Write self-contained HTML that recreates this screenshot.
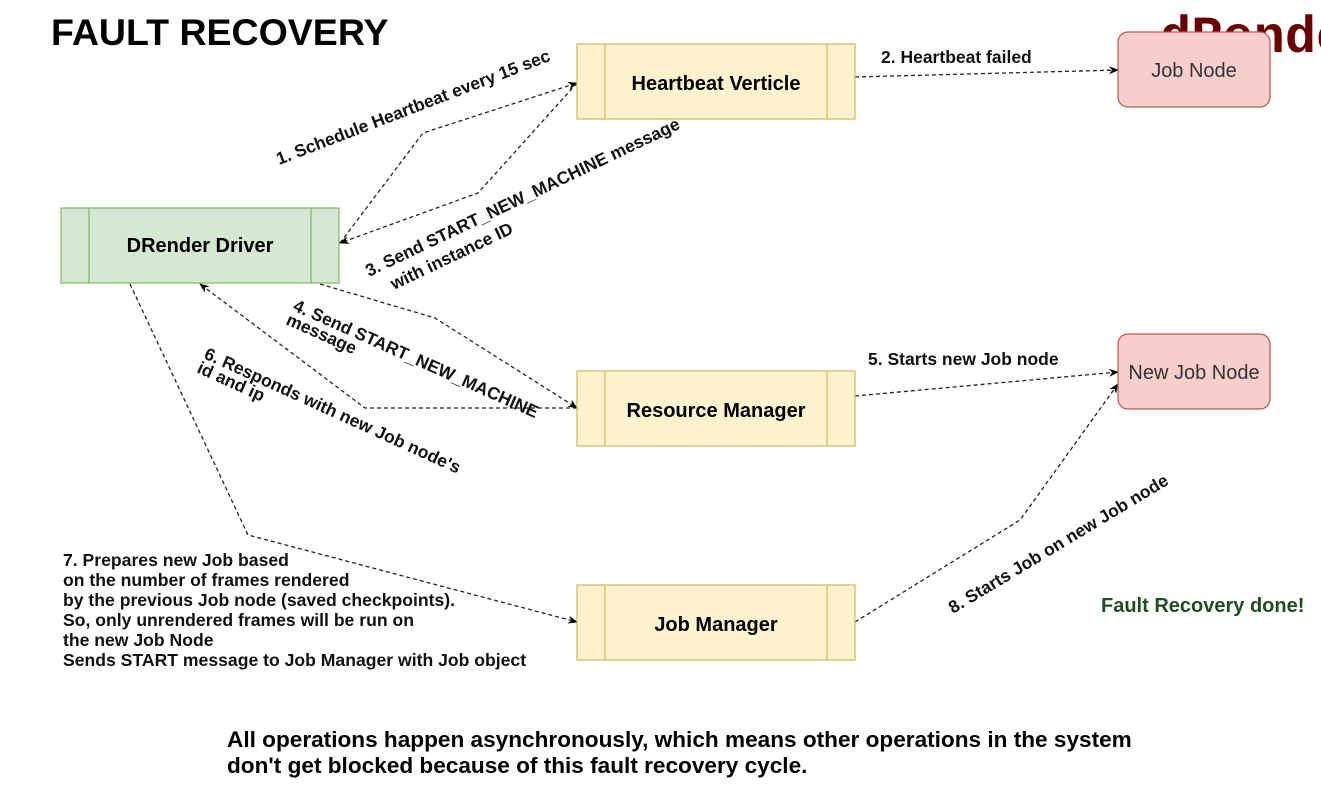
<!DOCTYPE html>
<html><head><meta charset="utf-8"><style>
body{margin:0;width:1321px;height:788px;background:#fff;position:relative;overflow:hidden;font-family:"Liberation Sans",Arial,sans-serif;}
.a{position:absolute;white-space:nowrap;}
.b{font-weight:bold;}
</style></head><body>
<div class="a b" style="left:51px;top:11px;font-size:37.5px;color:#000">FAULT RECOVERY</div>
<div class="a b" style="left:1160px;top:9px;font-size:52px;color:#6b0000;font-family:'Liberation Mono',monospace">dRender</div>
<svg width="1321" height="788" style="position:absolute;left:0;top:0">
<defs><marker id="m" markerWidth="10" markerHeight="10" refX="9" refY="5" orient="auto" markerUnits="userSpaceOnUse"><path d="M0,1 L10,5 L0,9 L3,5z" fill="#000"/></marker></defs>
<g fill="none" stroke="#222" stroke-width="1.3" stroke-dasharray="4,3">
<polyline points="340,243 423,133 577,83" marker-end="url(#m)"/>
<polyline points="577,83 478,193 340,243" marker-end="url(#m)"/>
<polyline points="855,77 1118,70" marker-end="url(#m)"/>
<polyline points="320,284 435,318 577,408" marker-end="url(#m)"/>
<polyline points="577,408 365,408 200,284" marker-end="url(#m)"/>
<polyline points="855,396 1118,372" marker-end="url(#m)"/>
<polyline points="130,284 248,535 577,622" marker-end="url(#m)"/>
<polyline points="855,622 1020,520 1118,384" marker-end="url(#m)"/>
</g>
<g stroke-width="1.2">
<rect x="1118" y="32" width="152" height="75" rx="10" fill="#f8cecc" stroke="#b85450"/>
<rect x="1118" y="334" width="152" height="75" rx="10" fill="#f8cecc" stroke="#b85450"/>
<rect x="61" y="208" width="278" height="75" fill="#d5e8d4" stroke="#82b366"/>
<line x1="89" y1="208" x2="89" y2="283" stroke="#82b366"/><line x1="311" y1="208" x2="311" y2="283" stroke="#82b366"/>
<rect x="577" y="44" width="278" height="75" fill="#fff2cc" stroke="#d6b656"/>
<line x1="605" y1="44" x2="605" y2="119" stroke="#d6b656"/><line x1="827" y1="44" x2="827" y2="119" stroke="#d6b656"/>
<rect x="577" y="371" width="278" height="75" fill="#fff2cc" stroke="#d6b656"/>
<line x1="605" y1="371" x2="605" y2="446" stroke="#d6b656"/><line x1="827" y1="371" x2="827" y2="446" stroke="#d6b656"/>
<rect x="577" y="585" width="278" height="75" fill="#fff2cc" stroke="#d6b656"/>
<line x1="605" y1="585" x2="605" y2="660" stroke="#d6b656"/><line x1="827" y1="585" x2="827" y2="660" stroke="#d6b656"/>
</g>
<g font-family="Liberation Sans,Arial,sans-serif" font-size="20" text-anchor="middle" fill="#000">
<text x="1194" y="77" fill="#333">Job Node</text>
<text x="1194" y="379" fill="#333">New Job Node</text>
<text x="200" y="252" font-weight="bold">DRender Driver</text>
<text x="716" y="90" font-weight="bold">Heartbeat Verticle</text>
<text x="716" y="417" font-weight="bold">Resource Manager</text>
<text x="716" y="631" font-weight="bold">Job Manager</text>
</g>
<g font-family="Liberation Sans,Arial,sans-serif" font-size="17.5" font-weight="bold" fill="#111">
<text x="881" y="63">2. Heartbeat failed</text>
<text x="868" y="365">5. Starts new Job node</text>
<text transform="translate(279,165) rotate(-21)">1. Schedule Heartbeat every 15 sec</text>
<text transform="translate(369,277) rotate(-25.5)">3. Send START_NEW_MACHINE message</text>
<text transform="translate(394,290) rotate(-25.5)">with instance ID</text>
<text transform="translate(292,310) rotate(24)">4. Send START_NEW_MACHINE</text>
<text transform="translate(285,324) rotate(24)">message</text>
<text transform="translate(203,358) rotate(24.5)">6. Responds with new Job node's</text>
<text transform="translate(196,372) rotate(24.5)">id and ip</text>
<text transform="translate(953,614) rotate(-31)">8. Starts Job on new Job node</text>
<text x="1101" y="612" fill="#1f4d1f" font-size="20">Fault Recovery done!</text>
</g>
<g font-family="Liberation Sans,Arial,sans-serif" font-size="17.6" font-weight="bold" fill="#111">
<text x="63" y="566">7. Prepares new Job based</text>
<text x="63" y="586">on the number of frames rendered</text>
<text x="63" y="606">by the previous Job node (saved checkpoints).</text>
<text x="63" y="626">So, only unrendered frames will be run on</text>
<text x="63" y="646">the new Job Node</text>
<text x="63" y="666">Sends START message to Job Manager with Job object</text>
</g>
<g font-family="Liberation Sans,Arial,sans-serif" font-size="22.6" font-weight="bold" fill="#000">
<text x="227" y="747">All operations happen asynchronously, which means other operations in the system</text>
<text x="227" y="773">don't get blocked because of this fault recovery cycle.</text>
</g>
</svg>
</body></html>
